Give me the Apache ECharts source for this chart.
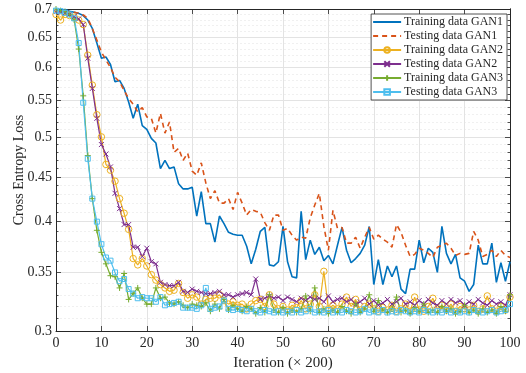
<!DOCTYPE html>
<html>
<head>
<meta charset="utf-8">
<script src="https://cdn.jsdelivr.net/npm/echarts@6/dist/echarts.min.js"></script>
<style>
  html, body { margin: 0; padding: 0; background: #fff; }
  #chart { width: 526px; height: 373px; }
</style>
</head>
<body>
<div id="chart"></div>
<script>
// ---- data ----
const iterations = [];
for (let i = 0; i <= 100; i++) iterations.push(i);

const yTicks = [0.3, 0.35, 0.4, 0.45, 0.5, 0.55, 0.6, 0.65, 0.7];
const yTickLabels = ['0.3', '0.35', '0.4', '0.45', '0.5', '0.55', '0.6', '0.65', '0.7'];
const yMinorTicks = [0.31, 0.32, 0.33, 0.34, 0.36, 0.37, 0.38, 0.39, 0.41, 0.42, 0.43, 0.44,
    0.46, 0.47, 0.48, 0.49, 0.51, 0.52, 0.53, 0.54, 0.56, 0.57, 0.58, 0.59,
    0.61, 0.62, 0.63, 0.64, 0.66, 0.67, 0.68, 0.69];
const xTicks = [0, 10, 20, 30, 40, 50, 60, 70, 80, 90, 100];

const trainGAN1 = [
    0.697, 0.698, 0.699, 0.696, 0.694, 0.692, 0.688, 0.680, 0.665, 0.640,
    0.615, 0.617, 0.605, 0.578, 0.580, 0.568, 0.548, 0.525, 0.545, 0.515,
    0.510, 0.498, 0.492, 0.460, 0.470, 0.460, 0.462, 0.442, 0.436, 0.436,
    0.438, 0.406, 0.433, 0.398, 0.398, 0.379, 0.406, 0.398, 0.389, 0.387,
    0.386, 0.386, 0.375, 0.358, 0.372, 0.390, 0.394, 0.357, 0.356, 0.360,
    0.395, 0.360, 0.346, 0.345, 0.411, 0.362, 0.381, 0.367, 0.374, 0.361,
    0.366, 0.358, 0.376, 0.394, 0.371, 0.359, 0.363, 0.368, 0.376, 0.395,
    0.339, 0.362, 0.339, 0.356, 0.346, 0.356, 0.335, 0.331, 0.353, 0.353,
    0.381, 0.359, 0.373, 0.369, 0.350, 0.395, 0.368, 0.358, 0.367, 0.345,
    0.342, 0.333, 0.339, 0.376, 0.358, 0.358, 0.378, 0.341, 0.359, 0.342,
    0.360
];
const testGAN1 = [
    0.695, 0.697, 0.697, 0.695, 0.694, 0.692, 0.689, 0.683, 0.665, 0.645,
    0.625, 0.612, 0.600, 0.585, 0.578, 0.565, 0.553, 0.545, 0.534, 0.540,
    0.527, 0.525, 0.505, 0.532, 0.505, 0.520, 0.480, 0.485, 0.470, 0.479,
    0.457, 0.452, 0.467, 0.443, 0.425, 0.434, 0.420, 0.420, 0.425, 0.413,
    0.432, 0.420, 0.407, 0.413, 0.411, 0.410, 0.399, 0.391, 0.407, 0.407,
    0.391, 0.393, 0.386, 0.381, 0.384, 0.383, 0.404, 0.418, 0.431, 0.395,
    0.371, 0.412, 0.393, 0.394, 0.378, 0.378, 0.384, 0.373, 0.384, 0.394,
    0.382, 0.386, 0.382, 0.379, 0.374, 0.397, 0.389, 0.376, 0.365, 0.367,
    0.373, 0.371, 0.368, 0.364, 0.374, 0.376, 0.378, 0.373, 0.366, 0.368,
    0.367, 0.368, 0.390, 0.381, 0.365, 0.367, 0.371, 0.365, 0.371, 0.366,
    0.364
];
const trainGAN2 = [
    0.690, 0.680, 0.690, 0.688, 0.685, 0.680, 0.672, 0.620, 0.573, 0.530,
    0.500, 0.465, 0.458, 0.445, 0.425, 0.409, 0.392, 0.363, 0.357, 0.363,
    0.356, 0.348, 0.343, 0.339, 0.336, 0.333, 0.334, 0.340, 0.332, 0.327,
    0.330, 0.328, 0.322, 0.326, 0.327, 0.327, 0.330, 0.325, 0.322, 0.324,
    0.321, 0.322, 0.318, 0.322, 0.325, 0.326, 0.320, 0.330, 0.322, 0.318,
    0.320, 0.317, 0.321, 0.319, 0.325, 0.318, 0.322, 0.330, 0.320, 0.351,
    0.318, 0.321, 0.318, 0.322, 0.328, 0.320, 0.326, 0.317, 0.320, 0.322,
    0.318, 0.316, 0.319, 0.317, 0.321, 0.316, 0.318, 0.322, 0.316, 0.328,
    0.317, 0.316, 0.320, 0.327, 0.318, 0.321, 0.317, 0.322, 0.316, 0.320,
    0.318, 0.317, 0.321, 0.316, 0.318, 0.329, 0.318, 0.316, 0.320, 0.317,
    0.328
];
const testGAN2 = [
    0.695, 0.694, 0.693, 0.690, 0.686, 0.682, 0.672, 0.615, 0.568, 0.525,
    0.490, 0.478, 0.462, 0.431, 0.414, 0.397, 0.397, 0.374, 0.374, 0.365,
    0.373, 0.360, 0.358, 0.341, 0.339, 0.338, 0.338, 0.341, 0.333, 0.332,
    0.335, 0.333, 0.332, 0.331, 0.331, 0.332, 0.333, 0.330, 0.330, 0.328,
    0.330, 0.331, 0.332, 0.330, 0.344, 0.326, 0.327, 0.329, 0.327, 0.328,
    0.325, 0.328, 0.326, 0.324, 0.327, 0.325, 0.328, 0.326, 0.327, 0.324,
    0.329, 0.324, 0.326, 0.327, 0.324, 0.326, 0.322, 0.324, 0.327, 0.322,
    0.325, 0.321, 0.323, 0.326, 0.322, 0.324, 0.327, 0.322, 0.324, 0.321,
    0.325, 0.322, 0.326, 0.323, 0.321, 0.325, 0.322, 0.326, 0.323, 0.325,
    0.321, 0.324, 0.322, 0.326, 0.323, 0.321, 0.325, 0.322, 0.324, 0.321,
    0.330
];
const trainGAN3 = [
    0.700, 0.697, 0.695, 0.690, 0.680, 0.630, 0.557, 0.476, 0.425, 0.391,
    0.369, 0.358, 0.347, 0.346, 0.336, 0.349, 0.326, 0.331, 0.336, 0.327,
    0.322, 0.322, 0.336, 0.327, 0.328, 0.323, 0.322, 0.324, 0.321, 0.319,
    0.322, 0.321, 0.320, 0.323, 0.316, 0.322, 0.318, 0.326, 0.317, 0.321,
    0.318, 0.316, 0.320, 0.318, 0.314, 0.319, 0.315, 0.330, 0.317, 0.315,
    0.319, 0.314, 0.317, 0.315, 0.318, 0.329, 0.316, 0.336, 0.315, 0.318,
    0.314, 0.317, 0.315, 0.320, 0.316, 0.314, 0.322, 0.315, 0.318, 0.330,
    0.316, 0.325, 0.317, 0.315, 0.318, 0.328, 0.315, 0.317, 0.314, 0.319,
    0.316, 0.322, 0.315, 0.317, 0.315, 0.320, 0.316, 0.318, 0.314, 0.316,
    0.321, 0.315, 0.317, 0.314, 0.318, 0.315, 0.317, 0.314, 0.320, 0.316,
    0.330
];
const testGAN3 = [
    0.697, 0.696, 0.693, 0.690, 0.683, 0.640, 0.547, 0.472, 0.425, 0.400,
    0.377, 0.364, 0.361, 0.350, 0.342, 0.344, 0.335, 0.331, 0.327, 0.328,
    0.327, 0.327, 0.324, 0.328, 0.321, 0.322, 0.323, 0.324, 0.319, 0.319,
    0.319, 0.318, 0.321, 0.336, 0.318, 0.319, 0.320, 0.325, 0.318, 0.317,
    0.318, 0.317, 0.316, 0.318, 0.316, 0.315, 0.317, 0.316, 0.315, 0.316,
    0.315, 0.316, 0.315, 0.317, 0.315, 0.316, 0.318, 0.315, 0.316, 0.315,
    0.317, 0.315, 0.316, 0.315, 0.317, 0.316, 0.315, 0.316, 0.318, 0.315,
    0.316, 0.315, 0.317, 0.315, 0.316, 0.315, 0.317, 0.316, 0.315, 0.316,
    0.315, 0.317, 0.316, 0.315, 0.316, 0.315, 0.317, 0.315, 0.316, 0.315,
    0.316, 0.315, 0.317, 0.316, 0.315, 0.316, 0.317, 0.315, 0.316, 0.317,
    0.322
];

// ---- style ----
const FONT = 'Liberation Serif';
const INK = '#262626';
const GRID_MAJOR = '#e3e3e3';
const GRID_MINOR = '#ececec';

const SYM_X = 'path://M0,0L10,10M10,0L0,10';
const SYM_PLUS = 'path://M5,0L5,10M0,5L10,5';
const SYM_SQUARE = 'path://M0,0L10,0L10,10L0,10Z';

// y is drawn on a log scale: axis works in ln(value)
const toLog = arr => iterations.map((x, i) => [x, Math.log(arr[i])]);
const yLabel = v => {
    const i = yTicks.findIndex(t => Math.abs(Math.log(t) - v) < 1e-6);
    return i >= 0 ? yTickLabels[i] : '';
};

function lineSeries(name, values, color, opts) {
    return Object.assign({
        name: name,
        type: 'line',
        data: toLog(values),
        showSymbol: true,
        symbol: 'none',
        symbolSize: 6,
        lineStyle: { color: color, width: 1.2 },
        itemStyle: { color: 'rgba(0,0,0,0)', borderColor: color, borderWidth: 1 },
        emphasis: { disabled: true },
        animation: false,
        z: 3
    }, opts);
}

function yAxisBase(position, values, tickLen, split) {
    return {
        type: 'value',
        position: position,
        min: Math.log(0.3),
        max: Math.log(0.7),
        axisLine: { show: true, lineStyle: { color: INK, width: 1 } },
        axisTick: { show: true, inside: true, length: tickLen, customValues: values.map(Math.log), lineStyle: { color: INK, width: 0.8 } },
        axisLabel: { show: false },
        splitLine: split
    };
}

const chart = echarts.init(document.getElementById('chart'), null, { renderer: 'canvas' });

const yMajorLeft = yAxisBase('left', yTicks, 5, { show: true, lineStyle: { color: GRID_MAJOR, width: 1 } });
yMajorLeft.axisLabel = {
    show: true, customValues: yTicks.map(Math.log), formatter: yLabel,
    fontFamily: FONT, fontSize: 14, color: INK, margin: 4
};
yMajorLeft.name = 'Cross Entropy Loss';
yMajorLeft.nameLocation = 'middle';
yMajorLeft.nameGap = 30;
yMajorLeft.nameMoveOverlap = false;
yMajorLeft.nameTextStyle = { fontFamily: FONT, fontSize: 14, color: INK };

chart.setOption({
    backgroundColor: '#ffffff',
    animation: false,
    grid: { left: 56, right: 16, top: 9, bottom: 42, containLabel: false, outerBoundsMode: 'none' },
    xAxis: [
        {
            type: 'value', min: 0, max: 100, interval: 10,
            name: 'Iteration (× 200)', nameLocation: 'middle', nameGap: 25,
            nameTextStyle: { fontFamily: FONT, fontSize: 15, color: INK },
            axisLine: { show: true, lineStyle: { color: INK, width: 1 } },
            axisTick: { show: true, inside: true, length: 5, lineStyle: { color: INK, width: 0.8 } },
            axisLabel: { fontFamily: FONT, fontSize: 14, color: INK, margin: 5,
                formatter: v => xTicks.indexOf(v) >= 0 ? String(v) : '' },
            splitLine: { show: true, lineStyle: { color: GRID_MAJOR, width: 1 } }
        },
        {
            type: 'value', position: 'top', min: 0, max: 100, interval: 10,
            axisLine: { show: true, onZero: false, lineStyle: { color: INK, width: 1 } },
            axisTick: { show: true, inside: true, length: 5, lineStyle: { color: INK, width: 0.8 } },
            axisLabel: { show: false },
            splitLine: { show: false }
        }
    ],
    yAxis: [
        yMajorLeft,
        yAxisBase('left', yMinorTicks, 2.5, { show: true, lineStyle: { color: GRID_MINOR, width: 0.8, type: [2, 2] } }),
        yAxisBase('right', yTicks, 5, { show: false }),
        yAxisBase('right', yMinorTicks, 2.5, { show: false })
    ],
    legend: {
        orient: 'vertical',
        right: 19,
        top: 14,
        padding: [1, 4, 1, 1],
        itemGap: 0,
        itemWidth: 28,
        itemHeight: 7,
        borderColor: INK,
        borderWidth: 0.8,
        borderRadius: 0,
        backgroundColor: '#ffffff',
        textStyle: { fontFamily: FONT, fontSize: 12, color: INK, lineHeight: 14, padding: [0, 0, 0, -2] },
        data: [
            { name: 'Training data GAN1', itemStyle: { opacity: 0 } },
            { name: 'Testing data GAN1', itemStyle: { opacity: 0 } },
            'Training data GAN2', 'Testing data GAN2', 'Training data GAN3', 'Testing data GAN3'
        ]
    },
    series: [
        lineSeries('Training data GAN1', trainGAN1, '#0072BD', { lineStyle: { color: '#0072BD', width: 1.6 } }),
        lineSeries('Testing data GAN1', testGAN1, '#D95319', { lineStyle: { color: '#D95319', width: 1.6, type: [5, 4] } }),
        lineSeries('Training data GAN2', trainGAN2, '#EDB120', { symbol: 'circle', symbolSize: 6.5 }),
        lineSeries('Testing data GAN2', testGAN2, '#7E2F8E', { symbol: SYM_X, symbolSize: 5 }),
        lineSeries('Training data GAN3', trainGAN3, '#77AC30', { symbol: SYM_PLUS, symbolSize: 6 }),
        lineSeries('Testing data GAN3', testGAN3, '#4DBEEE', { symbol: SYM_SQUARE, symbolSize: 5 })
    ]
});
</script>
</body>
</html>
